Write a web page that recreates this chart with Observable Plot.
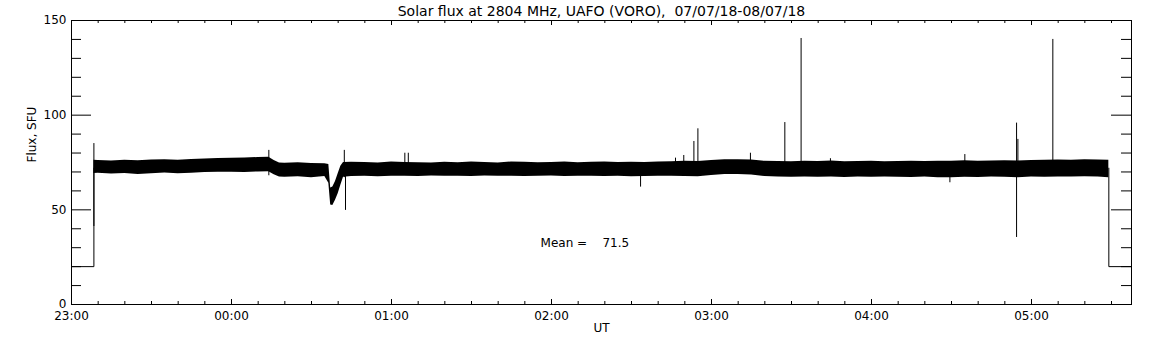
<!DOCTYPE html>
<html><head><meta charset="utf-8">
<script src="https://cdn.jsdelivr.net/npm/d3@7"></script>
<script src="https://cdn.jsdelivr.net/npm/@observablehq/plot@0.6"></script>
<style>
body{margin:0;background:#fff;}
svg{font-family:"DejaVu Sans",sans-serif;}
</style></head><body><div id="chart"></div>
<script>
// ---- data (time in minutes after 23:00 UT, flux in SFU) ----
const titleText = "Solar flux at 2804 MHz, UAFO (VORO),\u00a0\u00a007/07/18-08/07/18";
const xLabel = "UT";
const yLabel = "Flux, SFU";
const meanText = "Mean =\u00a0\u00a0\u00a0\u00a071.5";
const meanPos = [175.9, 32.2];

const hourTicks = [0, 60, 120, 180, 240, 300, 360];
const hourLabels = ["23:00", "00:00", "01:00", "02:00", "03:00", "04:00", "05:00"];
const yMajorTicks = [0, 50, 100, 150];
const yMinorTicks = [10, 20, 30, 40, 60, 70, 80, 90, 110, 120, 130, 140];
const xMinorTicks = d3.range(0, 398, 10).filter(t => t % 60 !== 0);

const bandT = [8.4,10,15,20,25,30,35,40,45,50,55,60,65,70,74,76,78,80,85,90,95,96.5,97.2,98,99,100,101,102,
  105,110,115,120,125,130,135,140,145,150,155,160,165,170,175,180,185,190,195,200,
  205,210,215,220,225,230,235,240,245,250,255,260,265,270,275,280,285,290,295,300,
  305,310,315,320,325,330,335,340,345,350,355,360,365,370,375,380,385,389];
const bandHi = [76.2,76.1,75.8,76.2,75.9,76.3,76.5,76.2,76.6,76.9,77.1,77.3,77.4,77.6,77.8,76.0,74.8,74.6,74.9,74.5,74.3,74.0,61.5,62.0,65.0,69.0,73.0,75.0,
  75.1,75.0,74.8,75.2,75.0,74.9,74.8,75.1,74.9,75.2,75.0,74.8,75.3,75.1,74.9,75.0,75.2,74.9,75.1,75.2,
  75.0,75.1,75.0,75.3,75.4,75.6,75.5,76.0,76.4,76.5,76.3,75.6,75.5,75.4,75.6,75.5,75.8,75.4,75.5,75.6,
  75.4,75.5,75.7,75.5,75.6,75.7,75.9,75.7,75.8,75.9,75.8,76.0,76.2,76.3,76.2,76.4,76.3,76.2];
const bandLo = [69.2,69.3,68.9,69.2,68.7,69.0,69.4,69.0,69.3,69.7,69.8,69.9,69.7,70.0,70.1,68.5,67.3,67.2,67.5,67.0,67.6,64.0,52.5,52.3,55.0,58.5,63.0,67.2,
  67.6,67.8,67.5,67.7,67.8,67.6,67.9,67.7,67.8,67.6,67.9,67.7,67.8,67.6,67.7,67.9,67.6,67.8,67.7,67.6,
  67.7,67.5,67.6,67.8,67.7,67.6,67.5,68.2,68.6,68.7,68.4,67.6,67.3,67.2,67.4,67.2,67.3,67.1,67.3,67.2,
  67.4,67.2,67.1,67.3,67.0,66.9,67.2,67.1,67.3,67.2,67.0,67.3,67.2,67.4,67.3,67.5,67.4,67.0];

const spikeT  = [8.4, 74, 102.3, 102.75, 125, 126.3, 213.4, 226.5, 229.6, 233.4, 234.9, 254.6, 267.5, 273.6, 284.6, 329.4, 335, 354.4, 354.9, 368];
const spikeLo = [41.2, 68, 67, 49.7, 70, 70, 62, 70, 70, 70, 70, 70, 70, 70, 70, 64.3, 70, 35.4, 70, 70];
const spikeHi = [85.0, 81.4, 81.4, 70, 79.9, 79.9, 70, 77.3, 78.7, 86.1, 92.8, 79.9, 96.1, 140.5, 77.0, 70, 79.2, 95.8, 87.2, 140];

const startT = [0, 8.4, 8.4];
const startV = [20, 20, 72];
const endT = [389, 389, 397.5];
const endV = [72, 20, 20];

// ---- build tables ----
const band = bandT.map((t, i) => ({t, lo: bandLo[i], hi: bandHi[i]}));
const spikes = spikeT.map((t, i) => ({t, lo: spikeLo[i], hi: spikeHi[i]}));
const startEdge = startT.map((t, i) => ({t, v: startV[i]}));
const endEdge = endT.map((t, i) => ({t, v: endV[i]}));

const W = 1152, H = 345, ML = 71, MR = 21, MT = 20, MB = 41;
const FW = W - ML - MR, FH = H - MT - MB;

const chart = Plot.plot({
  width: W, height: H,
  marginLeft: ML, marginRight: MR, marginTop: MT, marginBottom: MB,
  style: {fontFamily: "DejaVu Sans, sans-serif", fontSize: "12px", background: "white", color: "black", overflow: "visible"},
  x: {domain: [0, 397.5], axis: null},
  y: {domain: [0, 150], axis: null},
  marks: [
    Plot.areaY(band, {x: "t", y1: "lo", y2: "hi", fill: "black"}),
    Plot.ruleX(spikes, {x: "t", y1: "lo", y2: "hi", stroke: "black", strokeWidth: 1}),
    Plot.line(startEdge, {x: "t", y: "v", stroke: "black", strokeWidth: 1}),
    Plot.line(endEdge, {x: "t", y: "v", stroke: "black", strokeWidth: 1}),
    // inward ticks
    Plot.ruleX(hourTicks, {x: d => d, insetTop: FH - 5, stroke: "black"}),
    Plot.ruleX(hourTicks, {x: d => d, insetBottom: FH - 5, stroke: "black"}),
    Plot.ruleX(xMinorTicks, {x: d => d, insetTop: FH - 3, stroke: "black"}),
    Plot.ruleX(xMinorTicks, {x: d => d, insetBottom: FH - 3, stroke: "black"}),
    Plot.ruleY(yMajorTicks, {y: d => d, insetRight: FW - 20, stroke: "black"}),
    Plot.ruleY(yMajorTicks, {y: d => d, insetLeft: FW - 20, stroke: "black"}),
    Plot.ruleY(yMinorTicks, {y: d => d, insetRight: FW - 10, stroke: "black"}),
    Plot.ruleY(yMinorTicks, {y: d => d, insetLeft: FW - 10, stroke: "black"}),
    Plot.axisX({ticks: hourTicks, tickSize: 0, tickPadding: 7, tickFormat: d => hourLabels[hourTicks.indexOf(d)], label: null, fontSize: 12}),
    Plot.axisY({ticks: yMajorTicks, tickSize: 0, tickPadding: 5, label: null, fontSize: 12}),
    Plot.frame({stroke: "black"}),
    Plot.text([titleText], {text: d => d, frameAnchor: "top", dy: -9, lineAnchor: "middle", fontSize: 14, fill: "black"}),
    Plot.text([xLabel], {text: d => d, frameAnchor: "bottom", dy: 24, lineAnchor: "middle", fontSize: 12, fill: "black"}),
    Plot.text([yLabel], {text: d => d, frameAnchor: "left", dx: -39, rotate: -90, lineAnchor: "middle", fontSize: 12, fill: "black"}),
    Plot.text([meanText], {text: d => d, x: () => meanPos[0], y: () => meanPos[1], textAnchor: "start", lineAnchor: "middle", fontSize: 12, fill: "black"})
  ]
});
document.getElementById("chart").appendChild(chart);
</script></body></html>
